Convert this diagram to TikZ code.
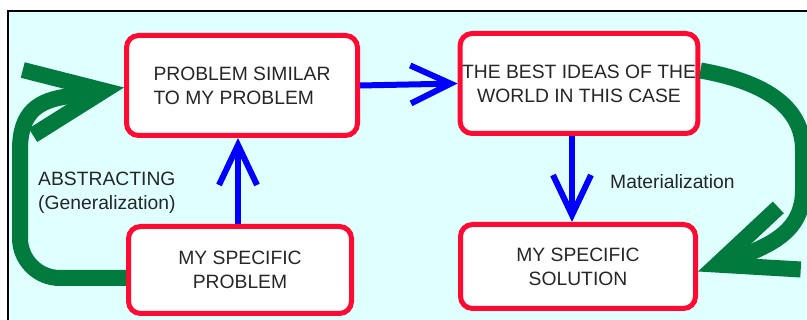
\documentclass[tikz,border=0pt]{standalone}
\usepackage{fontspec}
\setmainfont{Liberation Sans}
\usepackage{tikz}
\usetikzlibrary{positioning, arrows.meta}
\definecolor{boxred}{RGB}{255,10,50}
\definecolor{arrgreen}{RGB}{0,122,61}
\definecolor{arrblue}{RGB}{0,0,255}
\definecolor{bgcyan}{RGB}{224,255,255}

\begin{document}
\begin{tikzpicture}[
  x=1pt, y=1pt,
  font=\fontsize{19.3}{24}\selectfont,
  stepbox/.style={draw=boxred, line width=5pt, rounded corners=12pt,
                  fill=white, align=center, inner sep=2pt, text=black!85},
  barr/.style={-{Straight Barb[length=40pt, width=38pt, sharp]}, line width=6pt, arrblue},
  garr/.style={-{Straight Barb[length=77pt, width=66pt, sharp]}, line width=16pt, arrgreen},
  lbl/.style={align=left, anchor=west, text=black!85, inner sep=0pt}
]

\useasboundingbox (0,0) rectangle (807,-320);

% Background
\fill[bgcyan] (8,-11) rectangle (807,-320);
\draw[line width=2pt] (8,-320) -- (8,-11) -- (807,-11);

% Boxes
\node[stepbox, minimum width=231pt, minimum height=100pt, align=left] (Sim) at (242,-85.5) {
  PROBLEM SIMILAR\\
  TO MY PROBLEM
};
\node[stepbox, minimum width=237pt, minimum height=100pt] (Best) at (579,-83.5) {
  THE BEST IDEAS OF THE\\
  WORLD IN THIS CASE
};
\node[stepbox, minimum width=223pt, minimum height=87pt] (Mine) at (240,-270) {
  MY SPECIFIC\\
  PROBLEM
};
\node[stepbox, minimum width=235pt, minimum height=84pt] (Sol) at (578,-266.5) {
  MY SPECIFIC\\
  SOLUTION
};

% Blue arrows
\draw[barr] (Sim.east) -- (Best.west);
\draw[barr] ([xshift=-2pt]Mine.north) -- ([xshift=-2pt]Mine.north |- Sim.south);
\draw[barr] ([xshift=-7pt]Best.south) -- ([xshift=-7pt]Best.south |- Sol.north);

% Green arrows
\draw[garr] ([yshift=-8pt]Mine.west) -- (60,-278) to[out=180, in=270] (20,-238)
  -- (20,-150) .. controls (20,-112) and (38,-100) .. (70,-96) -- ([yshift=-2pt]Sim.west);
\draw[garr] ([yshift=13pt]Best.east) to[out=-10, in=90] (803,-150)
  -- (803,-190) .. controls (803,-225) and (780,-240) .. (752,-252) -- ([yshift=-5pt]Sol.east);

% Labels
\node[lbl] (Abs) at (38,-193) {ABSTRACTING\\(Generalization)};
\node[lbl] (Mat) at (610,-182) {Materialization};

\end{tikzpicture}
\end{document}
